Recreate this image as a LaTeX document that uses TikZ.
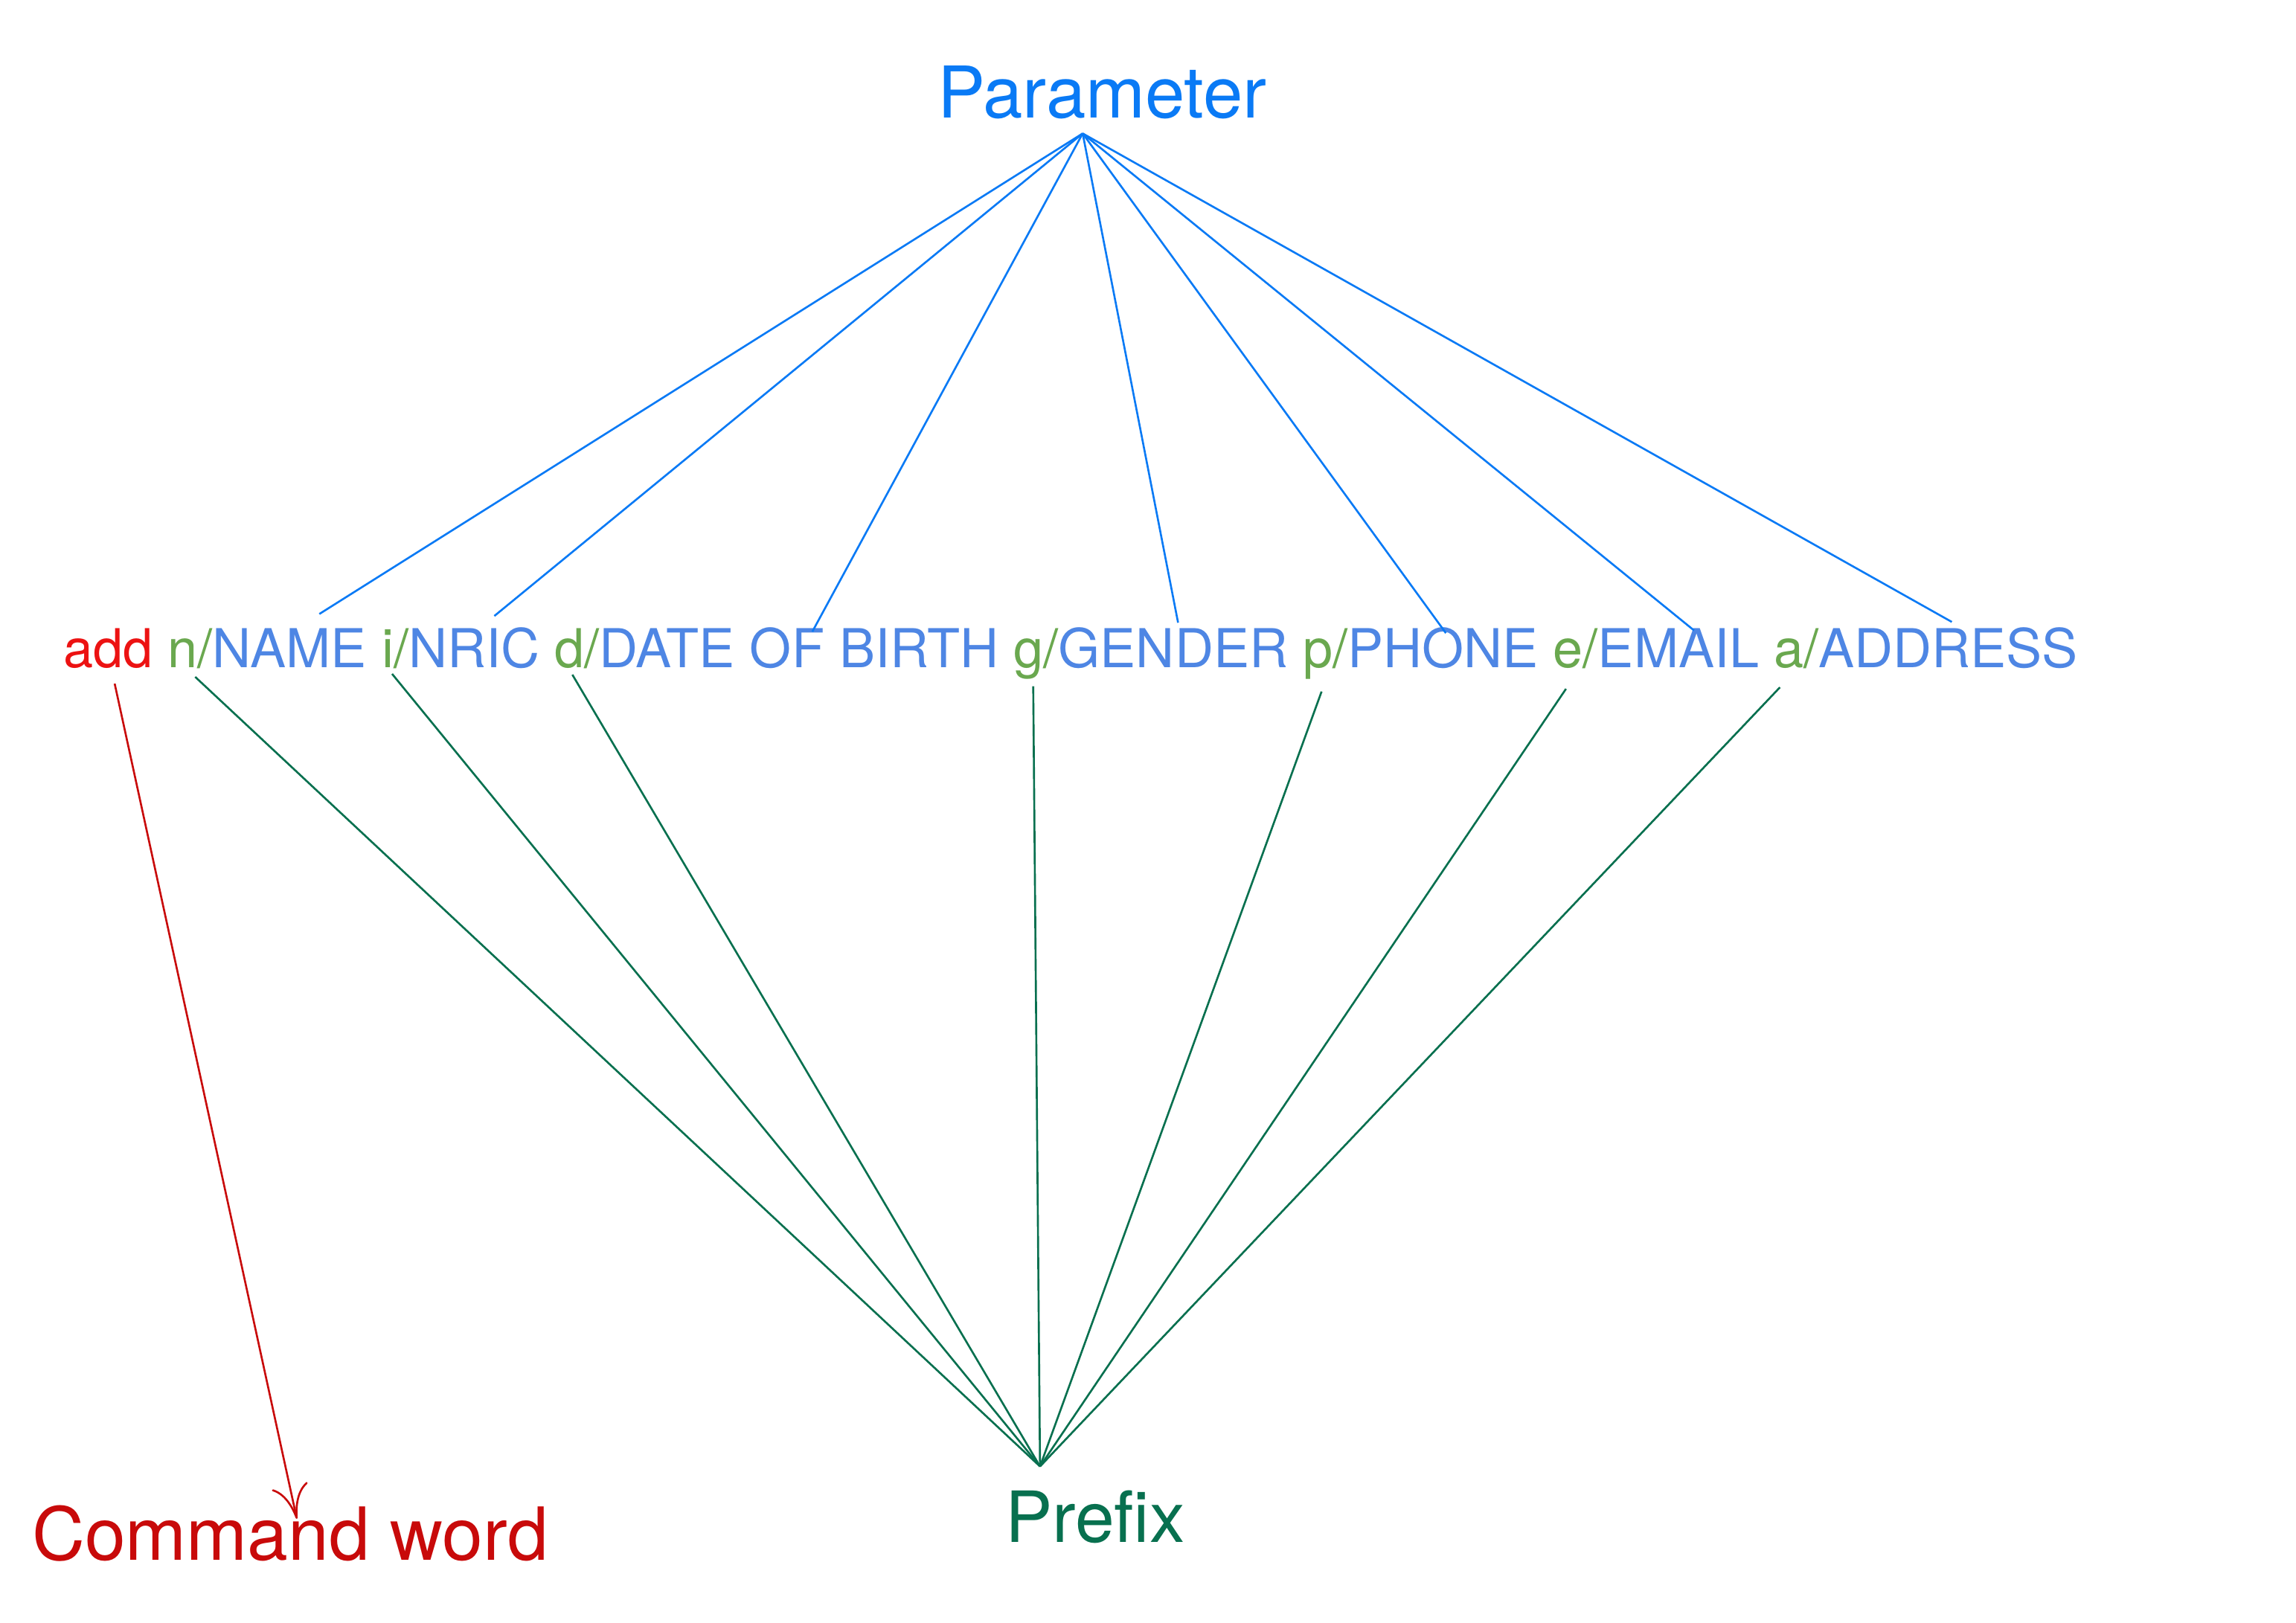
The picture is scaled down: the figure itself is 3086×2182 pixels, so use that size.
\documentclass[tikz,border=0pt]{standalone}
\usepackage{fontspec}
\setmainfont{TeX Gyre Heros}
\usetikzlibrary{calc,arrows.meta}
\definecolor{addred}{HTML}{EC1212}
\definecolor{cmdred}{HTML}{C80A0A}
\definecolor{paramblue}{HTML}{0A7AF5}
\definecolor{wordblue}{HTML}{4E86E4}
\definecolor{prefgreen}{HTML}{6AA84F}
\definecolor{darkgreen}{HTML}{08704F}
\begin{document}
\begin{tikzpicture}[x=0.01cm,y=-0.01cm,
  txt/.style={inner sep=0pt, outer sep=0pt, anchor=base west},
  linefont/.style={font=\fontsize{20.5}{24}\selectfont},
  pfx/.style={txt,linefont,text=prefgreen},
  wrd/.style={txt,linefont,text=wordblue},
  bl/.style={draw=paramblue, line width=0.75pt},
  gl/.style={draw=darkgreen, line width=0.75pt},
  rl/.style={draw=cmdred, line width=0.75pt},
]
\useasboundingbox (0,0) rectangle (3086,2182);
% titles
\node[txt,font=\fontsize{27.3}{32}\selectfont,text=paramblue] (param) at (1260,159) {Parameter};
\node[txt,font=\fontsize{27}{32}\selectfont,text=darkgreen] (prefix) at (1351,2073) {Prefix};
\node[txt,font=\fontsize{28}{32}\selectfont,text=cmdred] (cmd) at (43,2097) {Command word};
% command line
\node[txt,linefont,text=addred] (add) at (85,898) {add};
\node[pfx] (pn) at ([xshift=5.7pt]add.base east) {n};
\node[wrd] (wn) at (pn.base east) {\textcolor{prefgreen}{/}NAME};
\node[pfx] (pi) at ([xshift=5.7pt]wn.base east) {i};
\node[wrd] (wi) at (pi.base east) {\textcolor{prefgreen}{/}NRIC};
\node[pfx] (pd) at ([xshift=5.7pt]wi.base east) {d};
\node[wrd] (wd) at (pd.base east) {\textcolor{prefgreen}{/}DATE OF BIRTH};
\node[pfx] (pg) at ([xshift=5.7pt]wd.base east) {g};
\node[wrd] (wg) at (pg.base east) {\textcolor{prefgreen}{/}GENDER};
\node[pfx] (pp) at ([xshift=5.7pt]wg.base east) {p};
\node[wrd] (wp) at (pp.base east) {\textcolor{prefgreen}{/}PHONE};
\node[pfx] (pe) at ([xshift=5.7pt]wp.base east) {e};
\node[wrd] (we) at (pe.base east) {\textcolor{prefgreen}{/}EMAIL};
\node[pfx] (pa) at ([xshift=5.7pt]we.base east) {a};
\node[wrd] (wa) at (pa.base east) {\textcolor{prefgreen}{/}ADDRESS};
% apexes
\coordinate (ptop) at ($(param.south)+(-26,19)$);
\coordinate (pbot) at ($(prefix.north)+(-74,-32)$);
\coordinate (tip) at ($(cmd.base west)+(356,-55)$);
% parameter lines
\draw[bl] (ptop) -- ($(wn.north west)!0.72!(wn.north east)+(0,-20)$);
\draw[bl] (ptop) -- ($(wi.north west)!0.69!(wi.north east)+(0,-16)$);
\draw[bl] (ptop) -- ($(wd.north west)!0.55!(wd.north east)+(0,5)$);
\draw[bl] (ptop) -- ($(wg.north west)!0.55!(wg.north east)+(0,-7)$);
\draw[bl] (ptop) -- ($(wp.north west)!0.55!(wp.north east)+(0,7)$);
\draw[bl] (ptop) -- ($(we.north west)!0.63!(we.north east)+(0,2)$);
\draw[bl] (ptop) -- ($(wa.north west)!0.54!(wa.north east)+(0,-8)$);
% prefix lines
\draw[gl] ($(pn.south)+(17,12)$) -- (pbot);
\draw[gl] ($(pi.south)+(6,8)$) -- (pbot);
\draw[gl] ($(pd.south)+(4,8)$) -- (pbot);
\draw[gl] ($(pg.south)+(6,9)$) -- (pbot);
\draw[gl] ($(pp.south)+(5,16)$) -- (pbot);
\draw[gl] ($(pe.south)+(-3,27)$) -- (pbot);
\draw[gl] ($(pa.south)+(-12,25)$) -- (pbot);
% command word arrow
\draw[rl,-{To[length=13pt,width=14pt]}] ($(add.south)+(9,20)$) -- (tip);
\end{tikzpicture}
\end{document}
